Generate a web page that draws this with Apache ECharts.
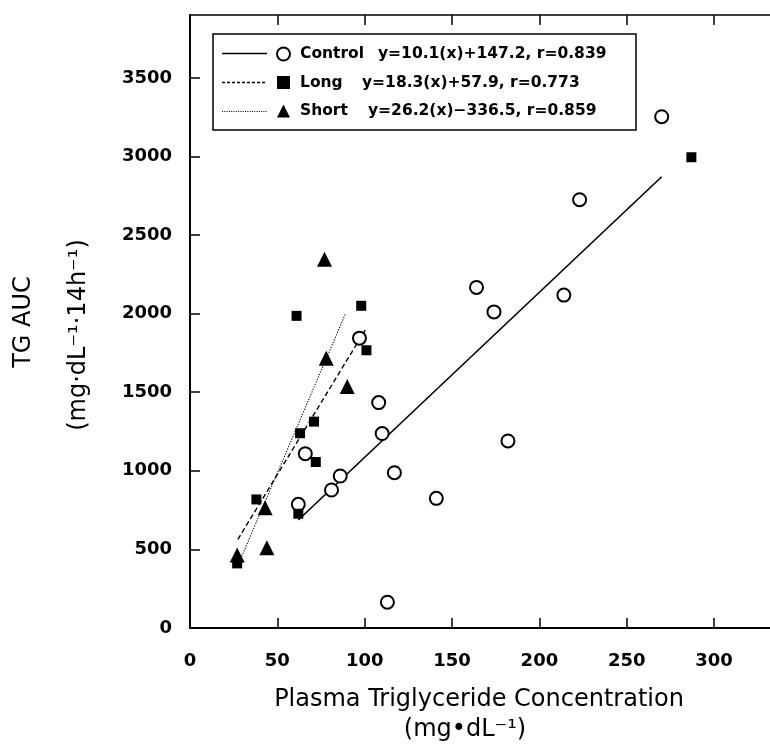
<!DOCTYPE html>
<html>
<head>
<meta charset="utf-8">
<script src="https://cdn.jsdelivr.net/npm/echarts@6/dist/echarts.min.js"></script>
<style>html,body{margin:0;padding:0;background:#fff}#c{width:770px;height:746px}</style>
</head>
<body>
<div id="c"></div>
<script>
// ---- data ----
const controlX = [62, 66, 81, 86, 97, 108, 110, 113, 117, 141, 164, 174, 182, 214, 223, 270];
const controlY = [787, 1109, 878, 967, 1844, 1434, 1237, 164, 988, 825, 2167, 2011, 1190, 2118, 2725, 3253];
const longX = [27, 38, 61, 62, 63, 71, 72, 98, 101, 287];
const longY = [411, 818, 1986, 727, 1239, 1313, 1056, 2050, 1767, 2995];
const shortX = [27, 43, 44, 77, 78, 90];
const shortY = [464, 765, 511, 2346, 1716, 1536];
// regression line end points
const controlFitX = [62, 270];
const controlFitY = [687, 2871];
const longFitX = [27.4, 100.4];
const longFitY = [564, 1897];
const shortFitX = [29, 89];
const shortFitY = [440, 2000];
const groupNames = ['Control', 'Long', 'Short'];
const equations = ['y=10.1(x)+147.2, r=0.839', 'y=18.3(x)+57.9, r=0.773', 'y=26.2(x)\u2212336.5, r=0.859'];
const xTicks = [0, 50, 100, 150, 200, 250, 300];
const yTicks = [0, 500, 1000, 1500, 2000, 2500, 3000, 3500];

const zip = (a, b) => a.map((v, i) => [v, b[i]]);
const FONT = 'DejaVu Sans';

const chart = echarts.init(document.getElementById('c'), null, {renderer: 'canvas'});
const lineAxis = w => ({show: true, onZero: false, lineStyle: {color: '#000', width: w}});
const tickStyle = vals => ({show: true, inside: true, length: 10, customValues: vals, lineStyle: {color: '#000', width: 1.5}});
const labelStyle = (vals, m) => ({margin: m, customValues: vals, formatter: v => String(v),
  fontFamily: FONT, fontWeight: 'bold', fontSize: 18, color: '#000'});
const LF = 15.5;
const rich = {};
[78, 62, 68].forEach((w, i) => {
  rich['n' + i] = {width: w, padding: [0, 0, 0, 5], fontFamily: FONT, fontWeight: 'bold', fontSize: LF, lineHeight: 13};
});
rich.e = {fontFamily: FONT, fontWeight: 'bold', fontSize: LF, lineHeight: 13};

const option = {
  backgroundColor: '#fff',
  animation: false,
  grid: {left: 190, top: 15, right: 0, height: 613, containLabel: false},
  xAxis: [
    {type: 'value', position: 'bottom', min: 0, max: 332, splitLine: {show: false},
      axisLine: lineAxis(2), axisTick: tickStyle(xTicks), axisLabel: labelStyle(xTicks, 24)},
    {type: 'value', position: 'top', min: 0, max: 332, splitLine: {show: false},
      axisLine: lineAxis(1.5), axisTick: tickStyle(xTicks), axisLabel: {show: false}}
  ],
  yAxis: {type: 'value', position: 'left', min: 0, max: 3900, splitLine: {show: false},
    axisLine: lineAxis(2), axisTick: tickStyle(yTicks), axisLabel: labelStyle(yTicks, 18)},
  legend: {
    data: groupNames, orient: 'vertical', left: 271, top: 41,
    itemWidth: 13, itemHeight: 13, itemGap: 12.5, selectedMode: false,
    textStyle: {fontFamily: FONT, fontWeight: 'bold', fontSize: LF, color: '#000', lineHeight: 13, rich: rich},
    formatter: name => {
      const i = groupNames.indexOf(name);
      return '{n' + i + '|' + name + '}{e|' + equations[i] + '}';
    }
  },
  graphic: [
    {type: 'rect', shape: {x: 213, y: 34, width: 423, height: 96}, style: {fill: 'none', stroke: '#000', lineWidth: 1.5}, z: 10},
    {type: 'line', shape: {x1: 222, y1: 53.5, x2: 267, y2: 53.5}, style: {stroke: '#000', lineWidth: 1.5}, z: 10},
    {type: 'line', shape: {x1: 222, y1: 82.5, x2: 267, y2: 82.5}, style: {stroke: '#000', lineWidth: 1.3, lineDash: [3, 2]}, z: 10},
    {type: 'line', shape: {x1: 222, y1: 111.5, x2: 267, y2: 111.5}, style: {stroke: '#000', lineWidth: 1, lineDash: [1, 1.3]}, z: 10},
    {type: 'text', x: 479, y: 700, style: {text: 'Plasma Triglyceride Concentration', font: '24px "DejaVu Sans"', fill: '#000', align: 'center', verticalAlign: 'middle'}},
    {type: 'text', x: 465, y: 730, style: {text: '(mg\u2022dL\u207B\u00B9)', font: '24px "DejaVu Sans"', fill: '#000', align: 'center', verticalAlign: 'middle'}},
    {type: 'text', x: 24, y: 322, rotation: Math.PI / 2, style: {text: 'TG AUC', font: '24px "DejaVu Sans"', fill: '#000', align: 'center', verticalAlign: 'middle'}},
    {type: 'text', x: 79, y: 335, rotation: Math.PI / 2, style: {text: '(mg\u00B7dL\u207B\u00B9\u00B714h\u207B\u00B9)', font: '24px "DejaVu Sans"', fill: '#000', align: 'center', verticalAlign: 'middle'}}
  ],
  series: [
    {name: 'Control fit', type: 'line', data: zip(controlFitX, controlFitY), showSymbol: false, symbol: 'none',
      lineStyle: {color: '#000', width: 1.6}, z: 2, silent: true},
    {name: 'Long fit', type: 'line', data: zip(longFitX, longFitY), showSymbol: false, symbol: 'none',
      lineStyle: {color: '#000', width: 1.4, type: [5, 3]}, z: 2, silent: true},
    {name: 'Short fit', type: 'line', data: zip(shortFitX, shortFitY), showSymbol: false, symbol: 'none',
      lineStyle: {color: '#000', width: 1.1, type: [1.2, 1.5]}, z: 2, silent: true},
    {name: 'Control', type: 'scatter', data: zip(controlX, controlY), symbol: 'circle', symbolSize: 13,
      itemStyle: {color: '#fff', borderColor: '#000', borderWidth: 2, opacity: 1}, z: 4},
    {name: 'Long', type: 'scatter', data: zip(longX, longY), symbol: 'rect', symbolSize: 10,
      itemStyle: {color: '#000', opacity: 1}, z: 4},
    {name: 'Short', type: 'scatter', data: zip(shortX, shortY), symbol: 'triangle', symbolSize: 15,
      itemStyle: {color: '#000', opacity: 1}, z: 4}
  ]
};
chart.setOption(option);
</script>
</body>
</html>
